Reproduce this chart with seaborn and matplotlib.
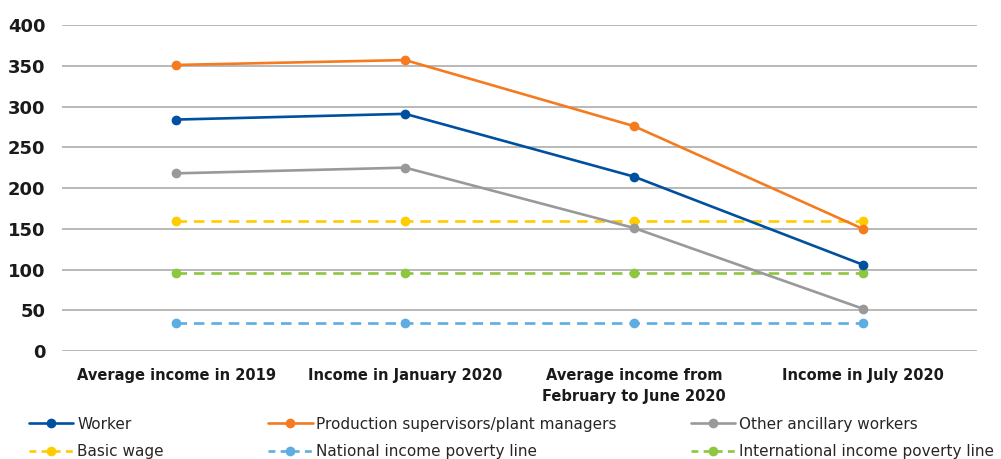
import matplotlib
matplotlib.use("Agg")
import matplotlib.pyplot as plt
from matplotlib.lines import Line2D
import seaborn as sns
import pandas as pd

# Income stages
categories = [
    "Average income in 2019",
    "Income in January 2020",
    "Average income from\nFebruary to June 2020",
    "Income in July 2020",
]

# Monthly income by group
worker = [284, 291, 214, 106]
supervisors = [351, 357, 276, 150]
ancillary = [218, 225, 151, 52]

# Reference levels
basic_wage = [160, 160, 160, 160]
national_poverty = [34, 34, 34, 34]
international_poverty = [96, 96, 96, 96]

series_names = [
    "Worker",
    "Production supervisors/plant managers",
    "Other ancillary workers",
    "Basic wage",
    "National income poverty line",
    "International income poverty line",
]
series_values = [worker, supervisors, ancillary, basic_wage, national_poverty, international_poverty]
colors = ["#0050A0", "#F47B20", "#999999", "#FFCC00", "#5DADE2", "#8DC63F"]
dashed = [False, False, False, True, True, True]

sns.set_theme(style="white")
plt.rcParams["font.family"] = ["DejaVu Sans"]

fig = plt.figure(figsize=(10.01, 4.59), dpi=100)
ax = fig.add_axes([0.062, 0.2353, 0.914, 0.7102])

ax.yaxis.grid(True, color="#A6A6A6", linewidth=1.1)
ax.set_axisbelow(True)

# Draw reference lines first so the income lines sit on top
order = [3, 5, 4, 2, 0, 1]
for i in order:
    df = pd.DataFrame({"stage": categories, "value": series_values[i]})
    ls = (0, (4, 2.6)) if dashed[i] else "-"
    sns.lineplot(data=df, x="stage", y="value", ax=ax, color=colors[i],
                 linewidth=1.9, linestyle=ls, marker="o", markersize=7,
                 markeredgewidth=0, sort=False, label=None, legend=False)

ax.set_xlim(-0.5, 3.5)
ax.set_ylim(0, 400)
ax.set_yticks(range(0, 401, 50))
ax.set_xlabel("")
ax.set_ylabel("")
for s in ax.spines.values():
    s.set_visible(False)
ax.tick_params(axis="both", length=0)
ax.tick_params(axis="y", pad=12)
ax.tick_params(axis="x", pad=12)
for lab in ax.get_yticklabels():
    lab.set_fontsize(13)
    lab.set_fontweight("bold")
    lab.set_color("#1a1a1a")
for lab in ax.get_xticklabels():
    lab.set_fontsize(10.5)
    lab.set_fontweight("bold")
    lab.set_color("#1a1a1a")
    lab.set_linespacing(1.5)

# Legend: three columns placed at their own offsets
def handle(i):
    ls = (0, (2.6, 2.0)) if dashed[i] else "-"
    return Line2D([], [], color=colors[i], linewidth=1.9, linestyle=ls,
                  marker="o", markersize=7, markeredgewidth=0)

col_x = [0.029, 0.268, 0.690]
columns = [[0, 3], [1, 4], [2, 5]]
for cx, idx in zip(col_x, columns):
    fig.legend([handle(i) for i in idx], [series_names[i] for i in idx],
               loc="upper left", bbox_to_anchor=(cx, 0.092), frameon=False,
               fontsize=11, handlelength=2.9, handletextpad=0.25,
               labelspacing=0.8, borderpad=0, borderaxespad=0)

fig.savefig("out.png", dpi=100)
